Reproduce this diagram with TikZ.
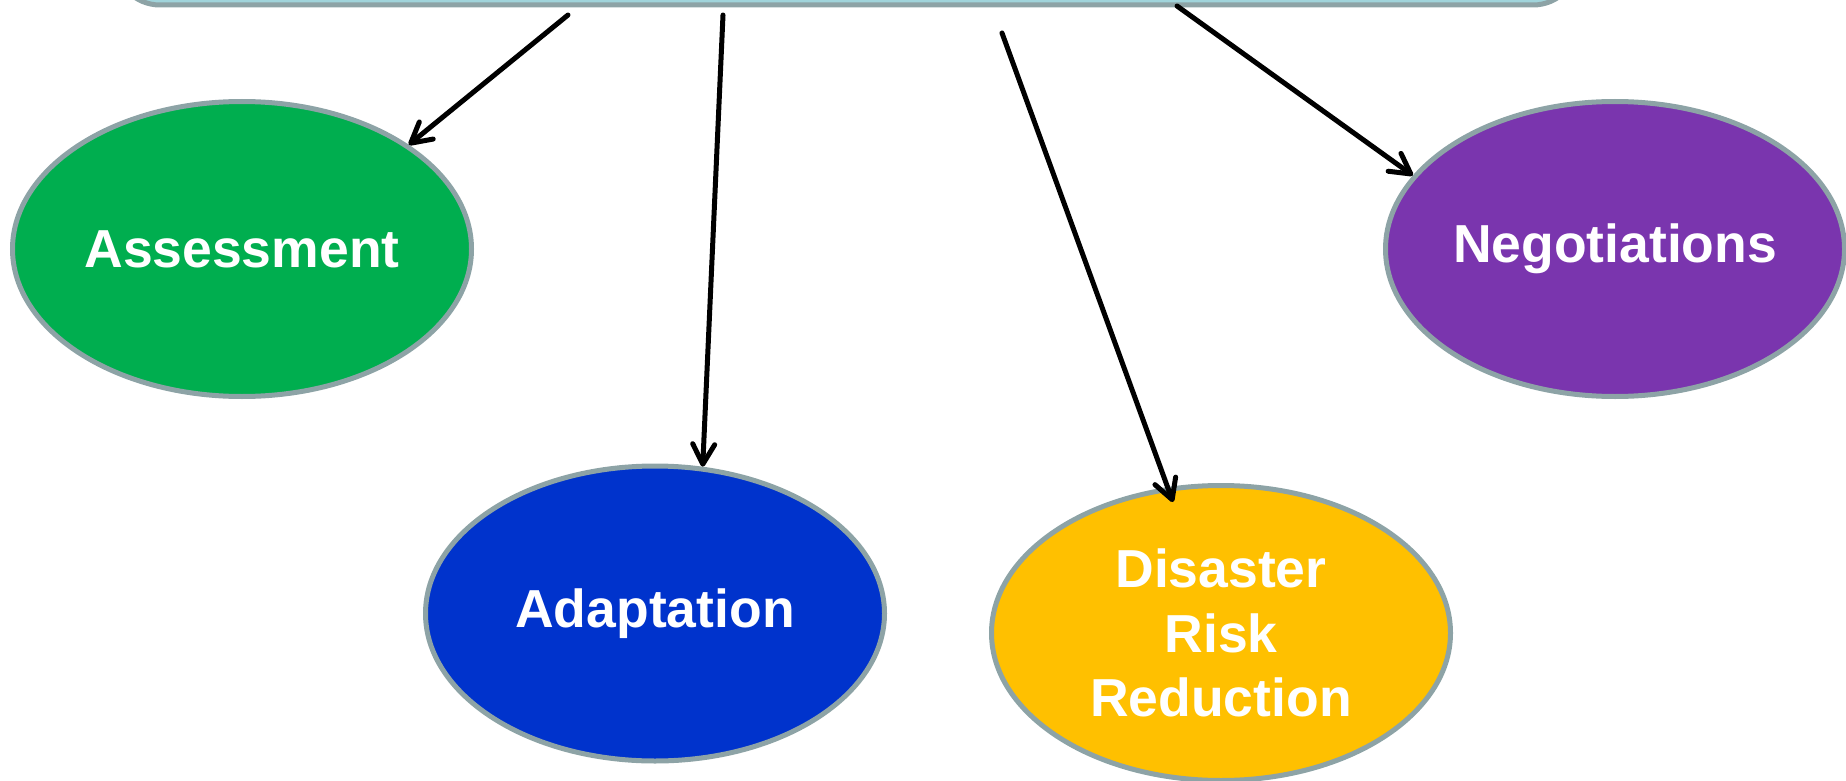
\documentclass[tikz,border=0pt]{standalone}
\usepackage{fontspec}
\setmainfont{Liberation Sans}
\usetikzlibrary{arrows.meta,shapes.geometric,calc}
\definecolor{bordergray}{HTML}{8DA3A6}
\definecolor{topfill}{HTML}{A0D4DB}
\definecolor{ellgreen}{HTML}{00AE4F}
\definecolor{ellblue}{HTML}{0033CC}
\definecolor{ellyellow}{HTML}{FFC000}
\definecolor{ellpurple}{HTML}{7A35AE}
\tikzset{
  topic/.style={ellipse, draw=bordergray, line width=5pt, inner sep=0pt,
    minimum width=459pt, minimum height=295pt, text=white, align=center,
    font=\bfseries\fontsize{53.5}{64.5}\selectfont},
  linkarrow/.style={line width=5pt, line cap=round, line join=round,
    -{Straight Barb[length=20pt,width=22pt,line cap=round,line join=round]}},
}
\begin{document}
\begin{tikzpicture}[x=1pt,y=-1pt]
\useasboundingbox (0,0) rectangle (1846,781);
\clip (0,0) rectangle (1846,781);
\node[draw=bordergray, fill=topfill, line width=5pt, rounded corners=45pt,
  minimum width=1463pt, minimum height=200pt, inner sep=0pt] (top) at (846.5,-95) {};
\node[topic, fill=ellgreen] (assess) at (242,249) {Assessment};
\node[topic, fill=ellblue] (adapt) at (655,613.5) {Adaptation};
\node[topic, fill=ellyellow] (drr) at (1221,633) {Disaster\\Risk\\Reduction};
\node[topic, fill=ellpurple] (nego) at (1615,249) {Negotiations};
\coordinate (s1) at (568,15);
\coordinate (s2) at (723,15);
\coordinate (s3) at (1002,33);
\coordinate (s4) at (1177,6);
\coordinate (t3) at ($(drr.center)+(-48,-131)$);
\draw[linkarrow] (s1) -- (assess.32.7);
\draw[linkarrow] (s2) -- (adapt.72.1);
\draw[linkarrow] (s3) -- (t3);
\draw[linkarrow] (s4) -- (nego.160.1);
\end{tikzpicture}
\end{document}
